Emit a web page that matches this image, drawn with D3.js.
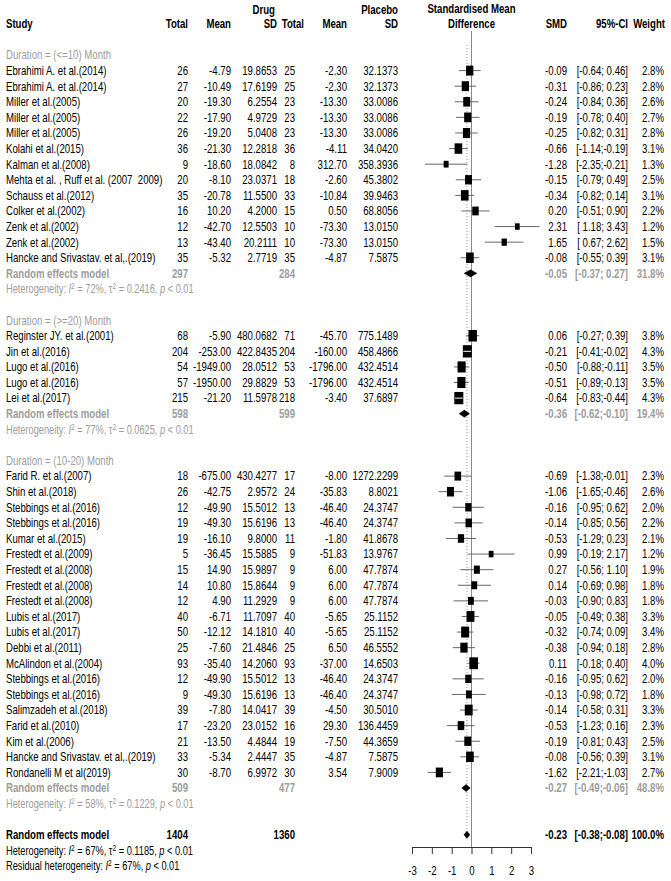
<!DOCTYPE html>
<html lang="en">
<head>
<meta charset="UTF-8">
<title>Forest plot - SMD</title>
<script src="https://cdn.jsdelivr.net/npm/d3@7"></script>
<style>
    body {margin: 0; background: #fff;}
    svg text {font-family: "Liberation Sans", Arial, sans-serif; font-size: 12.5px;}
</style>
</head>
<body>
<div id="plot"></div>
<script>
// ---- data ----
const groupLabels = ["Duration = (<=10) Month", "Duration = (>=20) Month", "Duration = (10-20) Month"];

const studies = [
    "Ebrahimi A. et al.(2014)", "Ebrahimi A. et al.(2014)", "Miller et al.(2005)", "Miller et al.(2005)",
    "Miller et al.(2005)", "Kolahi et al.(2015)", "Kalman et al.(2008)", "Mehta et al. , Ruff et al. (2007  2009)",
    "Schauss et al.(2012)", "Colker et al.(2002)", "Zenk et al.(2002)", "Zenk et al.(2002)",
    "Hancke and Srivastav. et al,.(2019)",
    "Reginster JY. et al.(2001)", "Jin et al.(2016)", "Lugo et al.(2016)", "Lugo et al.(2016)", "Lei et al.(2017)",
    "Farid R. et al.(2007)", "Shin et al.(2018)", "Stebbings et al.(2016)", "Stebbings et al.(2016)",
    "Kumar et al.(2015)", "Frestedt et al.(2009)", "Frestedt et al.(2008)", "Frestedt et al.(2008)",
    "Frestedt et al.(2008)", "Lubis et al.(2017)", "Lubis et al.(2017)", "Debbi et al.(2011)",
    "McAlindon et al.(2004)", "Stebbings et al.(2016)", "Stebbings et al.(2016)", "Salimzadeh et al.(2018)",
    "Farid et al.(2010)", "Kim et al.(2006)", "Hancke and Srivastav. et al,.(2019)", "Rondanelli M et al(2019)"
];
const studyGroup = [0,0,0,0,0,0,0,0,0,0,0,0,0, 1,1,1,1,1, 2,2,2,2,2,2,2,2,2,2,2,2,2,2,2,2,2,2,2,2];

const drugTotal = [26,27,20,22,26,36,9,20,35,16,12,13,35, 68,204,54,57,215,
    18,26,12,19,19,5,15,14,12,40,50,25,93,12,9,39,17,21,33,30];
const drugMean = [-4.79,-10.49,-19.30,-17.90,-19.20,-21.30,-18.60,-8.10,-20.78,10.20,-42.70,-43.40,-5.32,
    -5.90,-253.00,-1949.00,-1950.00,-21.20,
    -675.00,-42.75,-49.90,-49.30,-16.10,-36.45,14.90,10.80,4.90,-6.71,-12.12,-7.60,-35.40,-49.90,-49.30,-7.80,-23.20,-13.50,-5.34,-8.70];
const drugSD = [19.8653,17.6199,6.2554,4.9729,5.0408,12.2818,18.0842,23.0371,11.5500,4.2000,12.5503,20.2111,2.7719,
    480.0682,422.8435,28.0512,29.8829,11.5978,
    430.4277,2.9572,15.5012,15.6196,9.8000,15.5885,15.9897,15.8644,11.2929,11.7097,14.1810,21.4846,14.2060,15.5012,15.6196,14.0417,23.0152,4.4844,2.4447,6.9972];
const placeboTotal = [25,25,23,23,23,36,8,18,33,15,10,10,35, 71,204,53,53,218,
    17,24,13,13,11,9,9,9,9,40,40,25,93,13,13,39,16,19,35,30];
const placeboMean = [-2.30,-2.30,-13.30,-13.30,-13.30,-4.11,312.70,-2.60,-10.84,0.50,-73.30,-73.30,-4.87,
    -45.70,-160.00,-1796.00,-1796.00,-3.40,
    -8.00,-35.83,-46.40,-46.40,-1.80,-51.83,6.00,6.00,6.00,-5.65,-5.65,6.50,-37.00,-46.40,-46.40,-4.50,29.30,-7.50,-4.87,3.54];
const placeboSD = [32.1373,32.1373,33.0086,33.0086,33.0086,34.0420,358.3936,45.3802,39.9463,68.8056,13.0150,13.0150,7.5875,
    775.1489,458.4866,432.4514,432.4514,37.6897,
    1272.2299,8.8021,24.3747,24.3747,41.8678,13.9767,47.7874,47.7874,47.7874,25.1152,25.1152,46.5552,14.6503,24.3747,24.3747,30.5010,136.4459,44.3659,7.5875,7.9009];
const smd = [-0.09,-0.31,-0.24,-0.19,-0.25,-0.66,-1.28,-0.15,-0.34,0.20,2.31,1.65,-0.08,
    0.06,-0.21,-0.50,-0.51,-0.64,
    -0.69,-1.06,-0.16,-0.14,-0.53,0.99,0.27,0.14,-0.03,-0.05,-0.32,-0.38,0.11,-0.16,-0.13,-0.14,-0.53,-0.19,-0.08,-1.62];
const ciLow = [-0.64,-0.86,-0.84,-0.78,-0.82,-1.14,-2.35,-0.79,-0.82,-0.51,1.18,0.67,-0.55,
    -0.27,-0.41,-0.88,-0.89,-0.83,
    -1.38,-1.65,-0.95,-0.85,-1.29,-0.19,-0.56,-0.69,-0.90,-0.49,-0.74,-0.94,-0.18,-0.95,-0.98,-0.58,-1.23,-0.81,-0.56,-2.21];
const ciHigh = [0.46,0.23,0.36,0.40,0.31,-0.19,-0.21,0.49,0.14,0.90,3.43,2.62,0.39,
    0.39,-0.02,-0.11,-0.13,-0.44,
    -0.01,-0.46,0.62,0.56,0.23,2.17,1.10,0.98,0.83,0.38,0.09,0.18,0.40,0.62,0.72,0.31,0.16,0.43,0.39,-1.03];
const weight = [2.8,2.8,2.6,2.7,2.8,3.1,1.3,2.5,3.1,2.2,1.2,1.5,3.1,
    3.8,4.3,3.5,3.5,4.3,
    2.3,2.6,2.0,2.2,2.1,1.2,1.9,1.8,1.8,3.3,3.4,2.8,4.0,2.0,1.8,3.3,2.3,2.5,3.1,2.7];

// subgroup pooled results
const groupDrugTotal = [297, 598, 509];
const groupPlaceboTotal = [284, 599, 477];
const groupSmd = [-0.05, -0.36, -0.27];
const groupLow = [-0.37, -0.62, -0.49];
const groupHigh = [0.27, -0.10, -0.06];
const groupWeight = [31.8, 19.4, 48.8];
const groupI2 = ["72%", "77%", "58%"];
const groupTau2 = ["0.2416", "0.0625", "0.1229"];

// overall pooled result
const overallTotals = [1404, 1360];
const overallSmd = [-0.23, -0.38, -0.08];
const overallHet = ["67%", "0.1185"];
const residualI2 = "67%";

const axisTicks = [-3, -2, -1, 0, 1, 2, 3];

// ---- layout ----
const W = 671, H = 881;
const grey = "#9d9d9d";
const SX = 0.77;   // narrow look of the original font

const svg = d3.select("#plot").append("svg")
    .attr("width", W).attr("height", H);
svg.append("rect").attr("width", W).attr("height", H).attr("fill", "#fff");

// build the row list
let rows = [];
groupLabels.forEach(function(g, gi) {
    rows.push({type: "group", g: gi});
    studyGroup.forEach(function(sg, i) { if (sg === gi) rows.push({type: "study", i: i}); });
    rows.push({type: "pool", g: gi});
    rows.push({type: "het", g: gi});
    rows.push({type: "blank"});
});
rows.push({type: "overall"});
rows.push({type: "overallHet"});
rows.push({type: "residual"});

let y = d3.scaleLinear().domain([0, rows.length - 1]).range([55, 866]);
let x = d3.scaleLinear().domain([-3, 3]).range([412, 531]);
let boxW = d3.scaleSqrt().domain([0, d3.max(weight)]).range([0, 9]);
let boxH = d3.scaleSqrt().domain([0, d3.max(weight)]).range([0, 12.3]);

const col = {study: 6, dTot: 188, dMean: 231, dSD: 277, pTot: 295, pMean: 347, pSD: 398, smd: 567, ci: 628, w: 664};

const f2 = d3.format(".2f"), f4 = d3.format(".4f"), f1 = d3.format(".1f");
function fmt2(v) { return f2(v).replace("−", "-"); }
function ciText(lo, hi) {
    let a = lo < 0 ? fmt2(lo) : " " + fmt2(lo);
    let b = hi < 0 ? fmt2(hi) : " " + fmt2(hi);
    return "[" + a + ";" + b + "]";
}

function txt(xp, yp, s, anchor, opts) {
    opts = opts || {};
    return svg.append("text")
        .attr("transform", "translate(" + xp + "," + yp + ") scale(" + SX + ",1)")
        .attr("dy", "0.35em")
        .attr("text-anchor", anchor)
        .attr("fill", opts.fill || "#000")
        .attr("font-weight", opts.bold ? "bold" : null)
        .style("white-space", "pre")
        .text(s);
}

// headers
txt(col.dSD - 2, 10, "Drug", "end", {bold: true});
txt(col.pSD, 10, "Placebo", "end", {bold: true});
txt(x(0), 9, "Standardised Mean", "middle", {bold: true});
txt(col.study, 24, "Study", "start", {bold: true});
txt(col.dTot, 24, "Total", "end", {bold: true});
txt(col.dMean, 24, "Mean", "end", {bold: true});
txt(col.dSD, 24, "SD", "end", {bold: true});
txt(304, 24, "Total", "end", {bold: true});
txt(col.pMean, 24, "Mean", "end", {bold: true});
txt(col.pSD, 24, "SD", "end", {bold: true});
txt(x(0), 24, "Difference", "middle", {bold: true});
txt(col.smd, 24, "SMD", "end", {bold: true});
txt(col.ci, 24, "95%-CI", "end", {bold: true});
txt(col.w + 1, 24, "Weight", "end", {bold: true});

// reference lines
svg.append("line")
    .attr("x1", x(0)).attr("x2", x(0)).attr("y1", 31).attr("y2", 847)
    .attr("stroke", "#888").attr("stroke-width", 1);
svg.append("line")
    .attr("x1", x(overallSmd[0])).attr("x2", x(overallSmd[0])).attr("y1", 45).attr("y2", 836)
    .attr("stroke", "#999").attr("stroke-width", 1).attr("stroke-dasharray", "1,2");

function hetText(yp, pieces, fill) {
    let t = svg.append("text")
        .attr("transform", "translate(" + col.study + "," + yp + ") scale(" + SX + ",1)")
        .attr("dy", "0.35em")
        .attr("fill", fill).style("font-size", "12px").style("white-space", "pre");
    t.append("tspan").text(pieces.prefix + ": ");
    t.append("tspan").attr("font-style", "italic").text("I");
    t.append("tspan").attr("dy", -4).style("font-size", "8.5px").text("2");
    t.append("tspan").attr("dy", 4).text(" = " + pieces.i2 + ", ");
    if (pieces.tau2) {
        t.append("tspan").text("\u03c4");
        t.append("tspan").attr("dy", -4).style("font-size", "8.5px").text("2");
        t.append("tspan").attr("dy", 4).text(" = " + pieces.tau2 + ", ");
    }
    t.append("tspan").attr("font-style", "italic").text("p");
    t.append("tspan").text(" < 0.01");
}

function diamond(yp, est, lo, hi, fill) {
    let h = 3.6;
    svg.append("path")
        .attr("d", "M" + x(lo) + "," + yp + "L" + x(est) + "," + (yp - h) + "L" + x(hi) + "," + yp +
            "L" + x(est) + "," + (yp + h) + "Z")
        .attr("fill", fill).attr("stroke", fill).attr("stroke-width", 0.5);
}

rows.forEach(function(r, ri) {
    let yp = y(ri);
    if (r.type === "group") {
        txt(col.study, yp, groupLabels[r.g], "start", {fill: grey});
    } else if (r.type === "study") {
        let i = r.i;
        txt(col.study, yp, studies[i], "start");
        txt(col.dTot, yp, drugTotal[i], "end");
        txt(col.dMean, yp, fmt2(drugMean[i]), "end");
        txt(col.dSD, yp, f4(drugSD[i]), "end");
        txt(col.pTot, yp, placeboTotal[i], "end");
        txt(col.pMean, yp, fmt2(placeboMean[i]), "end");
        txt(col.pSD, yp, f4(placeboSD[i]), "end");
        txt(col.smd, yp, fmt2(smd[i]), "end");
        txt(col.ci, yp, ciText(ciLow[i], ciHigh[i]), "end");
        txt(col.w, yp, f1(weight[i]) + "%", "end");

        let bw = boxW(weight[i]), bh = boxH(weight[i]);
        svg.append("line")
            .attr("x1", x(ciLow[i])).attr("x2", x(ciHigh[i])).attr("y1", yp).attr("y2", yp)
            .attr("stroke", "#666").attr("stroke-width", 1);
        svg.append("rect")
            .attr("x", x(smd[i]) - bw / 2).attr("y", yp - bh / 2)
            .attr("width", bw).attr("height", bh).attr("fill", "#000");
        // CI narrower than the box: draw it in white on top
        if (x(ciHigh[i]) - x(ciLow[i]) < bw) {
            svg.append("line")
                .attr("x1", x(ciLow[i])).attr("x2", x(ciHigh[i])).attr("y1", yp).attr("y2", yp)
                .attr("stroke", "#fff").attr("stroke-width", 1);
        }
    } else if (r.type === "pool") {
        let g = r.g;
        txt(col.study, yp, "Random effects model", "start", {fill: grey, bold: true});
        txt(col.dTot, yp, groupDrugTotal[g], "end", {fill: grey, bold: true});
        txt(col.pTot, yp, groupPlaceboTotal[g], "end", {fill: grey, bold: true});
        txt(col.smd, yp, fmt2(groupSmd[g]), "end", {fill: grey, bold: true});
        txt(col.ci, yp, ciText(groupLow[g], groupHigh[g]), "end", {fill: grey, bold: true});
        txt(col.w, yp, f1(groupWeight[g]) + "%", "end", {fill: grey, bold: true});
        diamond(yp, groupSmd[g], groupLow[g], groupHigh[g], "#000");
    } else if (r.type === "het") {
        hetText(yp, {prefix: "Heterogeneity", i2: groupI2[r.g], tau2: groupTau2[r.g]}, grey);
    } else if (r.type === "overall") {
        txt(col.study, yp, "Random effects model", "start", {bold: true});
        txt(col.dTot, yp, overallTotals[0], "end", {bold: true});
        txt(col.pTot, yp, overallTotals[1], "end", {bold: true});
        txt(col.smd, yp, fmt2(overallSmd[0]), "end", {bold: true});
        txt(col.ci, yp, ciText(overallSmd[1], overallSmd[2]), "end", {bold: true});
        txt(col.w, yp, "100.0%", "end", {bold: true});
        diamond(yp, overallSmd[0], overallSmd[1], overallSmd[2], "#000");
    } else if (r.type === "overallHet") {
        hetText(yp, {prefix: "Heterogeneity", i2: overallHet[0], tau2: overallHet[1]}, "#000");
    } else if (r.type === "residual") {
        hetText(yp, {prefix: "Residual heterogeneity", i2: residualI2, tau2: null}, "#000");
    }
});

// x axis
let axis = svg.append("g")
    .attr("transform", "translate(0,847)")
    .call(d3.axisBottom(x).tickValues(axisTicks).tickFormat(d3.format("d"))
        .tickSize(7).tickSizeOuter(0).tickPadding(12));
axis.select(".domain").attr("stroke", "#333");
axis.selectAll(".tick line").attr("stroke", "#333");
axis.selectAll(".tick text")
    .attr("transform", "scale(" + SX + ",1)")
    .style("font-family", "\"Liberation Sans\", Arial, sans-serif")
    .style("font-size", "12.5px").text(function(d) { return String(d).replace("−", "-"); });
</script>
</body>
</html>
